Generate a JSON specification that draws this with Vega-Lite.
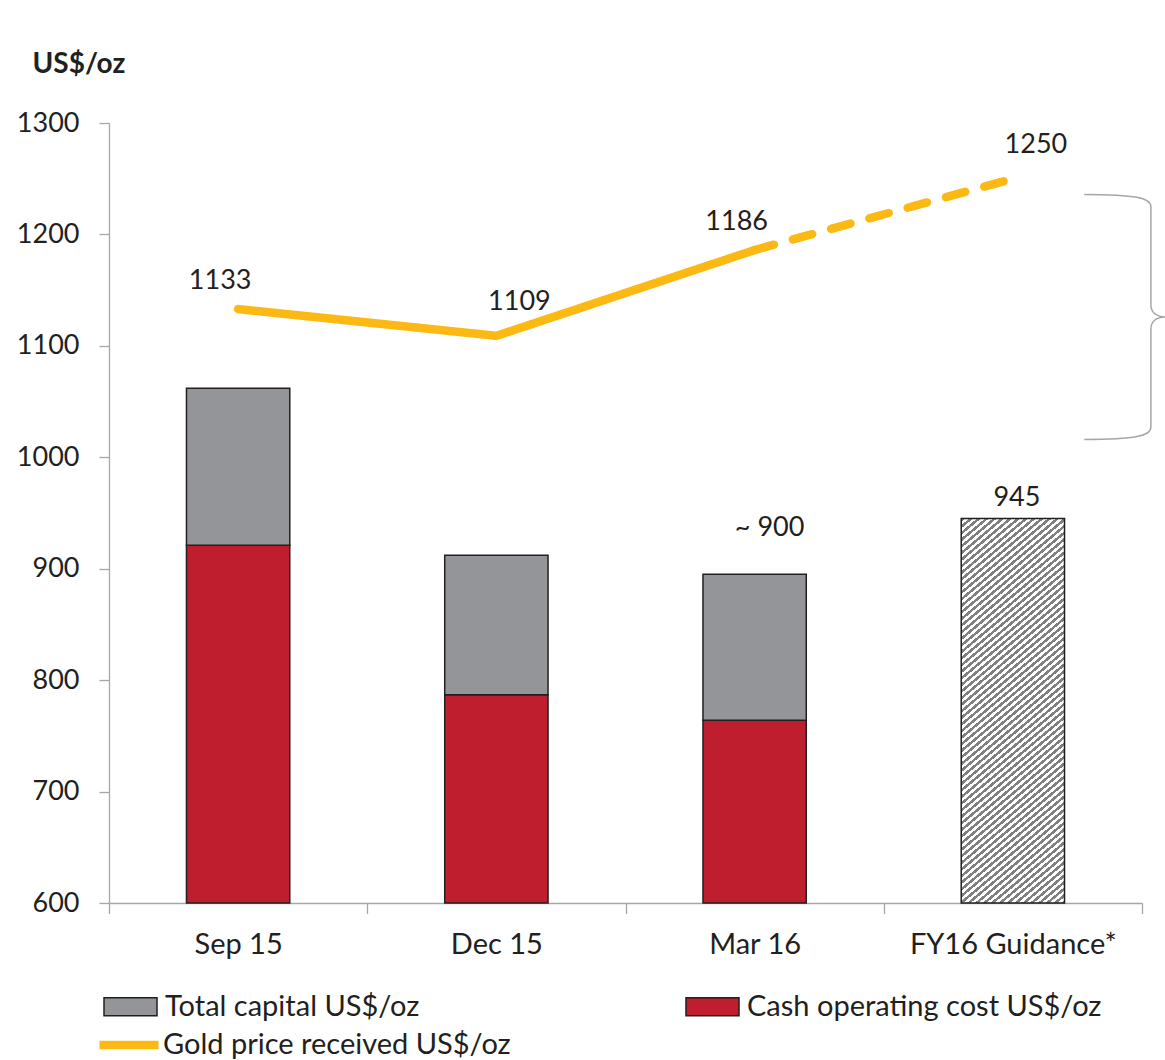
{
  "$schema": "https://vega.github.io/schema/vega-lite/v6.json",
  "autosize": {"type": "none"},
  "width": 1033,
  "height": 780,
  "padding": {"left": 109, "top": 123, "right": 23, "bottom": 157},
  "background": "white",
  "config": {
    "view": {"stroke": null},
    "font": "Lato",
    "axis": {"labelFont": "Lato", "labelColor": "#231f20", "domainColor": "#a6a6a6", "tickColor": "#a6a6a6", "domainWidth": 1.3, "tickWidth": 1.3, "grid": false},
    "axisY": {"labelFontSize": 27, "tickSize": 10, "labelPadding": 20, "tickCount": 8, "titleAngle": 0, "titleX": -77, "titleY": -51, "titleAlign": "left", "titleBaseline": "alphabetic", "titleFontSize": 28, "titleFontWeight": "bold", "titleColor": "#231f20", "titleFont": "Lato"},
    "legend": {"labelFont": "Lato", "labelColor": "#231f20", "padding": 0}
  },
  "datasets": {
    "costs": [
      {"period": "Sep 15", "cash": 921, "total": 1062},
      {"period": "Dec 15", "cash": 787, "total": 912},
      {"period": "Mar 16", "cash": 764, "total": 895, "label": "~ 900"},
      {"period": "FY16 Guidance*", "total": 945, "label": "945"}
    ],
    "gold": [
      {"period": "Sep 15", "gold": 1133, "seg": "actual"},
      {"period": "Dec 15", "gold": 1109, "seg": "actual"},
      {"period": "Mar 16", "gold": 1186, "seg": "actual"},
      {"period": "Mar 16", "gold": 1186, "seg": "forecast"},
      {"period": "FY16 Guidance*", "gold": 1250, "seg": "forecast"}
    ]
  },
  "layer": [
    {
      "encoding": {
        "x": {
          "field": "period", "type": "nominal",
          "sort": ["Sep 15", "Dec 15", "Mar 16", "FY16 Guidance*"],
          "scale": {"domain": ["Sep 15", "Dec 15", "Mar 16", "FY16 Guidance*"], "paddingInner": 0, "paddingOuter": 0},
          "axis": {"title": null, "labelFontSize": 29, "labelAngle": 0, "labelLimit": 400, "tickSize": 10.5, "tickBand": "extent", "labelPadding": 17}
        }
      },
      "layer": [
        {
          "data": {"name": "costs"},
          "transform": [{"filter": "isValid(datum.cash)"}],
          "mark": {"type": "bar", "width": {"band": 0.4}, "stroke": "#231f20", "strokeWidth": 1.5},
          "encoding": {
            "y": {
              "field": "cash", "type": "quantitative", "title": "US$/oz",
              "scale": {"domain": [600, 1300], "nice": false, "zero": false},
              "axis": {"format": "d"}
            },
            "y2": {"datum": 600},
            "fill": {
              "datum": "Cash operating cost US$/oz", "type": "nominal",
              "scale": {"domain": ["Total capital US$/oz", "Cash operating cost US$/oz"], "range": ["#939598", "#be1e2d"]},
              "legend": {"orient": "none", "legendX": -6, "legendY": 856, "title": null, "columns": 2, "columnPadding": 263, "symbolType": "M-1,-0.34H1V0.34H-1Z", "symbolSize": 2809, "symbolStrokeColor": "#231f20", "symbolStrokeWidth": 1.5, "labelFontSize": 29, "labelOffset": 7, "labelLimit": 700, "padding": 0}
            }
          }
        },
        {
          "data": {"name": "costs"},
          "transform": [{"filter": "isValid(datum.cash)"}],
          "mark": {"type": "bar", "width": {"band": 0.4}, "stroke": "#231f20", "strokeWidth": 1.5},
          "encoding": {
            "y": {"field": "total", "type": "quantitative", "title": "US$/oz"},
            "y2": {"field": "cash"},
            "fill": {"datum": "Total capital US$/oz", "type": "nominal"}
          }
        },
        {
          "data": {"name": "costs"},
          "transform": [{"filter": "datum.period == 'FY16 Guidance*'"}],
          "mark": {
            "type": "bar", "width": {"band": 0.4}, "stroke": "#231f20", "strokeWidth": 1.5,
            "fill": {"gradient": "linear", "x1": 0, "y1": 0, "x2": 0.2626, "y2": 1.166, "stops": [
              {"offset":0,"color":"gray"},{"offset":0.007,"color":"gray"},{"offset":0.007,"color":"white"},{"offset":0.014,"color":"white"},
              {"offset":0.014,"color":"gray"},{"offset":0.021,"color":"gray"},{"offset":0.021,"color":"white"},{"offset":0.028,"color":"white"},
              {"offset":0.028,"color":"gray"},{"offset":0.035,"color":"gray"},{"offset":0.035,"color":"white"},{"offset":0.042,"color":"white"},
              {"offset":0.042,"color":"gray"},{"offset":0.049,"color":"gray"},{"offset":0.049,"color":"white"},{"offset":0.056,"color":"white"},
              {"offset":0.056,"color":"gray"},{"offset":0.063,"color":"gray"},{"offset":0.063,"color":"white"},{"offset":0.07,"color":"white"},
              {"offset":0.07,"color":"gray"},{"offset":0.077,"color":"gray"},{"offset":0.077,"color":"white"},{"offset":0.084,"color":"white"},
              {"offset":0.084,"color":"gray"},{"offset":0.091,"color":"gray"},{"offset":0.091,"color":"white"},{"offset":0.098,"color":"white"},
              {"offset":0.098,"color":"gray"},{"offset":0.105,"color":"gray"},{"offset":0.105,"color":"white"},{"offset":0.112,"color":"white"},
              {"offset":0.112,"color":"gray"},{"offset":0.119,"color":"gray"},{"offset":0.119,"color":"white"},{"offset":0.126,"color":"white"},
              {"offset":0.126,"color":"gray"},{"offset":0.133,"color":"gray"},{"offset":0.133,"color":"white"},{"offset":0.14,"color":"white"},
              {"offset":0.14,"color":"gray"},{"offset":0.147,"color":"gray"},{"offset":0.147,"color":"white"},{"offset":0.154,"color":"white"},
              {"offset":0.154,"color":"gray"},{"offset":0.161,"color":"gray"},{"offset":0.161,"color":"white"},{"offset":0.168,"color":"white"},
              {"offset":0.168,"color":"gray"},{"offset":0.175,"color":"gray"},{"offset":0.175,"color":"white"},{"offset":0.182,"color":"white"},
              {"offset":0.182,"color":"gray"},{"offset":0.189,"color":"gray"},{"offset":0.189,"color":"white"},{"offset":0.196,"color":"white"},
              {"offset":0.196,"color":"gray"},{"offset":0.203,"color":"gray"},{"offset":0.203,"color":"white"},{"offset":0.21,"color":"white"},
              {"offset":0.21,"color":"gray"},{"offset":0.217,"color":"gray"},{"offset":0.217,"color":"white"},{"offset":0.224,"color":"white"},
              {"offset":0.224,"color":"gray"},{"offset":0.231,"color":"gray"},{"offset":0.231,"color":"white"},{"offset":0.238,"color":"white"},
              {"offset":0.238,"color":"gray"},{"offset":0.245,"color":"gray"},{"offset":0.245,"color":"white"},{"offset":0.252,"color":"white"},
              {"offset":0.252,"color":"gray"},{"offset":0.259,"color":"gray"},{"offset":0.259,"color":"white"},{"offset":0.266,"color":"white"},
              {"offset":0.266,"color":"gray"},{"offset":0.273,"color":"gray"},{"offset":0.273,"color":"white"},{"offset":0.28,"color":"white"},
              {"offset":0.28,"color":"gray"},{"offset":0.287,"color":"gray"},{"offset":0.287,"color":"white"},{"offset":0.294,"color":"white"},
              {"offset":0.294,"color":"gray"},{"offset":0.301,"color":"gray"},{"offset":0.301,"color":"white"},{"offset":0.308,"color":"white"},
              {"offset":0.308,"color":"gray"},{"offset":0.315,"color":"gray"},{"offset":0.315,"color":"white"},{"offset":0.322,"color":"white"},
              {"offset":0.322,"color":"gray"},{"offset":0.329,"color":"gray"},{"offset":0.329,"color":"white"},{"offset":0.336,"color":"white"},
              {"offset":0.336,"color":"gray"},{"offset":0.343,"color":"gray"},{"offset":0.343,"color":"white"},{"offset":0.35,"color":"white"},
              {"offset":0.35,"color":"gray"},{"offset":0.357,"color":"gray"},{"offset":0.357,"color":"white"},{"offset":0.364,"color":"white"},
              {"offset":0.364,"color":"gray"},{"offset":0.371,"color":"gray"},{"offset":0.371,"color":"white"},{"offset":0.378,"color":"white"},
              {"offset":0.378,"color":"gray"},{"offset":0.385,"color":"gray"},{"offset":0.385,"color":"white"},{"offset":0.392,"color":"white"},
              {"offset":0.392,"color":"gray"},{"offset":0.399,"color":"gray"},{"offset":0.399,"color":"white"},{"offset":0.406,"color":"white"},
              {"offset":0.406,"color":"gray"},{"offset":0.413,"color":"gray"},{"offset":0.413,"color":"white"},{"offset":0.42,"color":"white"},
              {"offset":0.42,"color":"gray"},{"offset":0.427,"color":"gray"},{"offset":0.427,"color":"white"},{"offset":0.434,"color":"white"},
              {"offset":0.434,"color":"gray"},{"offset":0.441,"color":"gray"},{"offset":0.441,"color":"white"},{"offset":0.448,"color":"white"},
              {"offset":0.448,"color":"gray"},{"offset":0.455,"color":"gray"},{"offset":0.455,"color":"white"},{"offset":0.462,"color":"white"},
              {"offset":0.462,"color":"gray"},{"offset":0.469,"color":"gray"},{"offset":0.469,"color":"white"},{"offset":0.476,"color":"white"},
              {"offset":0.476,"color":"gray"},{"offset":0.483,"color":"gray"},{"offset":0.483,"color":"white"},{"offset":0.49,"color":"white"},
              {"offset":0.49,"color":"gray"},{"offset":0.497,"color":"gray"},{"offset":0.497,"color":"white"},{"offset":0.504,"color":"white"},
              {"offset":0.504,"color":"gray"},{"offset":0.511,"color":"gray"},{"offset":0.511,"color":"white"},{"offset":0.518,"color":"white"},
              {"offset":0.518,"color":"gray"},{"offset":0.525,"color":"gray"},{"offset":0.525,"color":"white"},{"offset":0.532,"color":"white"},
              {"offset":0.532,"color":"gray"},{"offset":0.539,"color":"gray"},{"offset":0.539,"color":"white"},{"offset":0.546,"color":"white"},
              {"offset":0.546,"color":"gray"},{"offset":0.553,"color":"gray"},{"offset":0.553,"color":"white"},{"offset":0.56,"color":"white"},
              {"offset":0.56,"color":"gray"},{"offset":0.567,"color":"gray"},{"offset":0.567,"color":"white"},{"offset":0.574,"color":"white"},
              {"offset":0.574,"color":"gray"},{"offset":0.581,"color":"gray"},{"offset":0.581,"color":"white"},{"offset":0.588,"color":"white"},
              {"offset":0.588,"color":"gray"},{"offset":0.595,"color":"gray"},{"offset":0.595,"color":"white"},{"offset":0.602,"color":"white"},
              {"offset":0.602,"color":"gray"},{"offset":0.609,"color":"gray"},{"offset":0.609,"color":"white"},{"offset":0.616,"color":"white"},
              {"offset":0.616,"color":"gray"},{"offset":0.623,"color":"gray"},{"offset":0.623,"color":"white"},{"offset":0.63,"color":"white"},
              {"offset":0.63,"color":"gray"},{"offset":0.637,"color":"gray"},{"offset":0.637,"color":"white"},{"offset":0.644,"color":"white"},
              {"offset":0.644,"color":"gray"},{"offset":0.651,"color":"gray"},{"offset":0.651,"color":"white"},{"offset":0.658,"color":"white"},
              {"offset":0.658,"color":"gray"},{"offset":0.665,"color":"gray"},{"offset":0.665,"color":"white"},{"offset":0.672,"color":"white"},
              {"offset":0.672,"color":"gray"},{"offset":0.679,"color":"gray"},{"offset":0.679,"color":"white"},{"offset":0.686,"color":"white"},
              {"offset":0.686,"color":"gray"},{"offset":0.693,"color":"gray"},{"offset":0.693,"color":"white"},{"offset":0.7,"color":"white"},
              {"offset":0.7,"color":"gray"},{"offset":0.707,"color":"gray"},{"offset":0.707,"color":"white"},{"offset":0.714,"color":"white"},
              {"offset":0.714,"color":"gray"},{"offset":0.721,"color":"gray"},{"offset":0.721,"color":"white"},{"offset":0.728,"color":"white"},
              {"offset":0.728,"color":"gray"},{"offset":0.735,"color":"gray"},{"offset":0.735,"color":"white"},{"offset":0.742,"color":"white"},
              {"offset":0.742,"color":"gray"},{"offset":0.749,"color":"gray"},{"offset":0.749,"color":"white"},{"offset":0.756,"color":"white"},
              {"offset":0.756,"color":"gray"},{"offset":0.763,"color":"gray"},{"offset":0.763,"color":"white"},{"offset":0.77,"color":"white"},
              {"offset":0.77,"color":"gray"},{"offset":0.777,"color":"gray"},{"offset":0.777,"color":"white"},{"offset":0.784,"color":"white"},
              {"offset":0.784,"color":"gray"},{"offset":0.791,"color":"gray"},{"offset":0.791,"color":"white"},{"offset":0.798,"color":"white"},
              {"offset":0.798,"color":"gray"},{"offset":0.805,"color":"gray"},{"offset":0.805,"color":"white"},{"offset":0.812,"color":"white"},
              {"offset":0.812,"color":"gray"},{"offset":0.819,"color":"gray"},{"offset":0.819,"color":"white"},{"offset":0.826,"color":"white"},
              {"offset":0.826,"color":"gray"},{"offset":0.833,"color":"gray"},{"offset":0.833,"color":"white"},{"offset":0.84,"color":"white"},
              {"offset":0.84,"color":"gray"},{"offset":0.847,"color":"gray"},{"offset":0.847,"color":"white"},{"offset":0.854,"color":"white"},
              {"offset":0.854,"color":"gray"},{"offset":0.861,"color":"gray"},{"offset":0.861,"color":"white"},{"offset":0.868,"color":"white"},
              {"offset":0.868,"color":"gray"},{"offset":0.875,"color":"gray"},{"offset":0.875,"color":"white"},{"offset":0.882,"color":"white"},
              {"offset":0.882,"color":"gray"},{"offset":0.889,"color":"gray"},{"offset":0.889,"color":"white"},{"offset":0.896,"color":"white"},
              {"offset":0.896,"color":"gray"},{"offset":0.903,"color":"gray"},{"offset":0.903,"color":"white"},{"offset":0.91,"color":"white"},
              {"offset":0.91,"color":"gray"},{"offset":0.917,"color":"gray"},{"offset":0.917,"color":"white"},{"offset":0.924,"color":"white"},
              {"offset":0.924,"color":"gray"},{"offset":0.931,"color":"gray"},{"offset":0.931,"color":"white"},{"offset":0.938,"color":"white"},
              {"offset":0.938,"color":"gray"},{"offset":0.945,"color":"gray"},{"offset":0.945,"color":"white"},{"offset":0.952,"color":"white"},
              {"offset":0.952,"color":"gray"},{"offset":0.959,"color":"gray"},{"offset":0.959,"color":"white"},{"offset":0.966,"color":"white"},
              {"offset":0.966,"color":"gray"},{"offset":0.973,"color":"gray"},{"offset":0.973,"color":"white"},{"offset":0.98,"color":"white"},
              {"offset":0.98,"color":"gray"},{"offset":0.987,"color":"gray"},{"offset":0.987,"color":"white"},{"offset":0.994,"color":"white"},
              {"offset":0.994,"color":"gray"},{"offset":1,"color":"gray"}
            ]}
          },
          "encoding": {
            "y": {"field": "total", "type": "quantitative", "title": "US$/oz"},
            "y2": {"datum": 600}
          }
        },
        {
          "data": {"name": "gold"},
          "mark": {"type": "line", "strokeWidth": 8.5, "strokeCap": "round"},
          "encoding": {
            "y": {"field": "gold", "type": "quantitative", "title": "US$/oz"},
            "stroke": {
              "datum": "Gold price received US$/oz", "type": "nominal",
              "scale": {"range": ["#fdb913"]},
              "legend": {"orient": "none", "legendX": -14, "legendY": 888, "title": null, "symbolType": "stroke", "symbolSize": 3481, "symbolStrokeWidth": 8.5, "labelFontSize": 29, "labelOffset": 0, "labelLimit": 700, "padding": 0}
            },
            "strokeDash": {
              "field": "seg", "type": "nominal",
              "scale": {"domain": ["actual", "forecast"], "range": [[1, 0], [20, 19.7]]},
              "legend": null
            }
          }
        },
        {
          "data": {"name": "gold"},
          "transform": [{"filter": "datum.seg == 'actual' && (datum.period == 'Sep 15' || datum.period == 'Mar 16')"}],
          "mark": {"type": "text", "fontSize": 27, "font": "Lato", "color": "#231f20", "align": "center", "baseline": "alphabetic", "dx": -18, "dy": -20},
          "encoding": {
            "y": {"field": "gold", "type": "quantitative", "title": "US$/oz"},
            "text": {"field": "gold", "type": "quantitative"}
          }
        },
        {
          "data": {"name": "gold"},
          "transform": [{"filter": "datum.period == 'Dec 15' || datum.period == 'FY16 Guidance*'"}],
          "mark": {"type": "text", "fontSize": 27, "font": "Lato", "color": "#231f20", "align": "center", "baseline": "alphabetic", "dx": 23, "dy": -26},
          "encoding": {
            "y": {"field": "gold", "type": "quantitative", "title": "US$/oz"},
            "text": {"field": "gold", "type": "quantitative"}
          }
        },
        {
          "data": {"name": "costs"},
          "transform": [{"filter": "datum.period == 'FY16 Guidance*'"}],
          "mark": {"type": "text", "fontSize": 27, "font": "Lato", "color": "#231f20", "align": "center", "baseline": "alphabetic", "dx": 4, "dy": -13},
          "encoding": {
            "y": {"field": "total", "type": "quantitative", "title": "US$/oz"},
            "text": {"field": "label", "type": "nominal"}
          }
        },
        {
          "data": {"name": "costs"},
          "transform": [{"filter": "datum.period == 'Mar 16'"}],
          "mark": {"type": "text", "fontSize": 27, "font": "Lato", "color": "#231f20", "align": "center", "baseline": "alphabetic", "dx": 15, "dy": -38},
          "encoding": {
            "y": {"field": "total", "type": "quantitative", "title": "US$/oz"},
            "text": {"field": "label", "type": "nominal"}
          }
        }
      ]
    },
    {
      "data": {"values": [{}]},
      "mark": {"type": "point", "shape": "M-0.324,-1C0.1,-1 0.22,-0.97 0.22,-0.9L0.22,-0.1C0.22,-0.04 0.26,0 0.34,0C0.26,0 0.22,0.04 0.22,0.1L0.22,0.9C0.22,0.97 0.1,1 -0.324,1", "filled": false, "stroke": "#a6a6a6", "strokeWidth": 1.5, "opacity": 1, "size": 60025},
      "encoding": {
        "x": {"datum": 3.93, "type": "quantitative", "scale": {"domain": [0, 4], "nice": false, "zero": false}, "axis": null},
        "y": {"datum": 1126, "type": "quantitative", "title": "US$/oz"}
      }
    }
  ],
  "resolve": {"scale": {"x": "independent"}, "axis": {"x": "independent"}}
}
